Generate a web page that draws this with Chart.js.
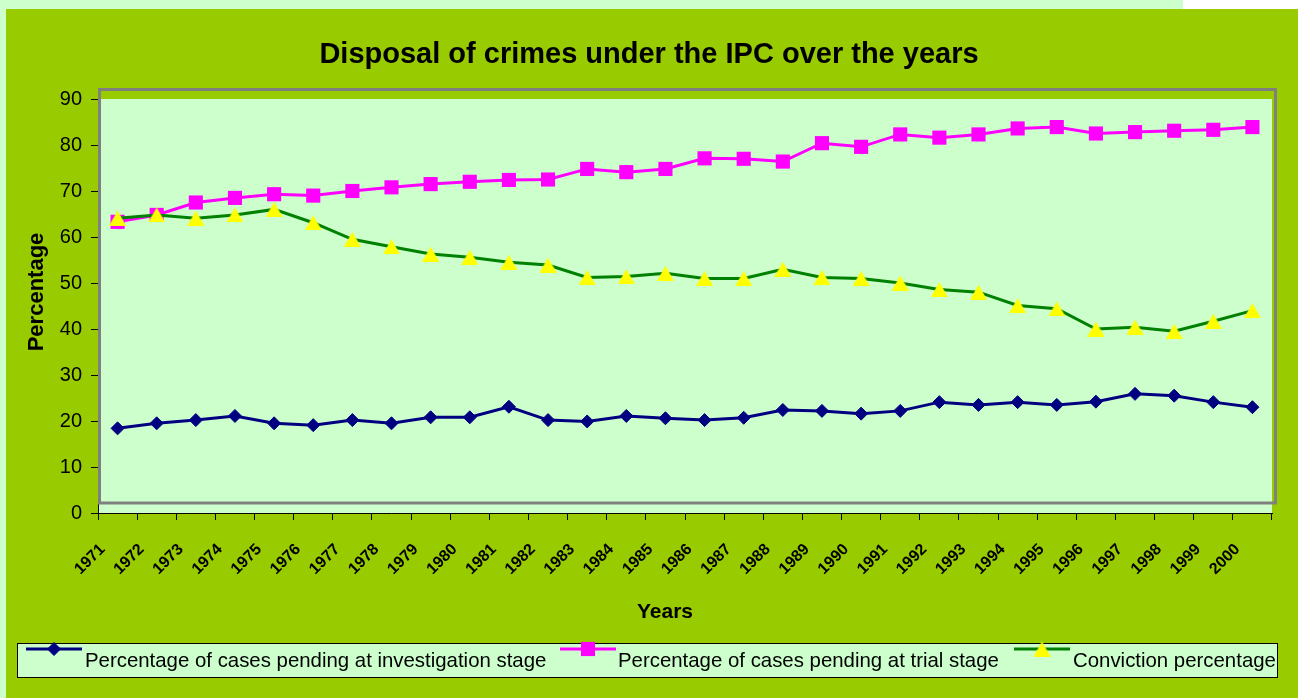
<!DOCTYPE html>
<html>
<head>
<meta charset="utf-8">
<title>Disposal of crimes under the IPC</title>
<script src="https://cdn.jsdelivr.net/npm/chart.js@4.4.1/dist/chart.umd.min.js"></script>
<style>
  html, body { margin: 0; padding: 0; background: #ccffcc; }
  canvas { display: block; }
</style>
</head>
<body>
<canvas id="crimeChart" width="1298" height="698"></canvas>
<script>
// values (percent)
const years = ['1971', '1972', '1973', '1974', '1975', '1976', '1977', '1978', '1979', '1980',
               '1981', '1982', '1983', '1984', '1985', '1986', '1987', '1988', '1989', '1990',
               '1991', '1992', '1993', '1994', '1995', '1996', '1997', '1998', '1999', '2000'];
const investigationPending = [18.4, 19.5, 20.2, 21.1, 19.5, 19.1, 20.2, 19.5, 20.8, 20.8,
                              23.1, 20.2, 19.9, 21.1, 20.6, 20.2, 20.7, 22.4, 22.2, 21.6,
                              22.2, 24.1, 23.5, 24.1, 23.5, 24.2, 25.9, 25.5, 24.1, 23.0];
const trialPending = [63.3, 64.8, 67.5, 68.5, 69.3, 69.0, 70.0, 70.8, 71.5, 72.0,
                      72.4, 72.5, 74.8, 74.1, 74.8, 77.1, 77.0, 76.4, 80.4, 79.6,
                      82.3, 81.6, 82.3, 83.6, 83.9, 82.5, 82.8, 83.1, 83.3, 83.9];
const convictionRate = [64.1, 64.8, 64.1, 64.8, 66.0, 63.1, 59.5, 57.9, 56.3, 55.6,
                        54.5, 53.9, 51.2, 51.4, 52.1, 51.0, 51.0, 53.0, 51.2, 51.0,
                        50.0, 48.6, 48.0, 45.1, 44.4, 40.0, 40.4, 39.5, 41.7, 44.0];
const yMin = 0, yMax = 90, yStep = 10;
const seriesNames = ['Percentage of cases pending at investigation stage',
                     'Percentage of cases pending at trial stage',
                     'Conviction percentage'];
const chartTitle = 'Disposal of crimes under the IPC over the years';
const xTitle = 'Years';
const yTitle = 'Percentage';

const FONT = '"Liberation Sans", Arial, sans-serif';
const OLIVE = '#99cc00';
const PALE = '#ccffcc';

// legend slots: where each sample line starts (x) and where its text starts
const legendSlots = [
    { lineX: 26, textX: 85 },
    { lineX: 560, textX: 618 },
    { lineX: 1014, textX: 1073 }
];

// Excel centres its triangle on the box, not on the circumcentre, so build our own
function makeTriangle(w, h, color) {
    const c = document.createElement('canvas');
    c.width = w;
    c.height = h;
    const g = c.getContext('2d');
    g.fillStyle = color;
    g.beginPath();
    g.moveTo(w / 2, 0);
    g.lineTo(w, h);
    g.lineTo(0, h);
    g.closePath();
    g.fill();
    return c;
}
const yellowTriangle = makeTriangle(17, 15, '#ffff00');

function drawMarker(ctx, ds, x, y) {
    ctx.fillStyle = ds.pointBackgroundColor;
    ctx.strokeStyle = ds.pointBorderColor;
    ctx.lineWidth = ds.pointBorderWidth;
    Chart.helpers.drawPoint(ctx, {
        pointStyle: ds.pointStyle,
        radius: ds.pointRadius,
        rotation: 0,
        borderWidth: ds.pointBorderWidth
    }, x, y);
}

const decor = {
    id: 'decor',
    beforeDraw(chart) {
        const { ctx, chartArea: a, width, height } = chart;
        ctx.save();
        ctx.fillStyle = PALE;
        ctx.fillRect(0, 0, width, height);
        ctx.fillStyle = '#ffffff';
        ctx.fillRect(1183, 0, width - 1183, 9);
        ctx.fillStyle = OLIVE;
        ctx.fillRect(6, 9, width - 6, height - 9);
        // plot background
        ctx.fillStyle = PALE;
        ctx.fillRect(a.left, a.top, a.right - a.left, a.bottom - a.top);
        ctx.restore();
    },
    beforeDatasetsDraw(chart) {
        const { ctx, chartArea: a } = chart;
        // grey frame sits a little higher than the plot fill, like in the original
        ctx.save();
        ctx.strokeStyle = '#808080';
        ctx.lineWidth = 3;
        ctx.strokeRect(a.left + 1.5, a.top - 9.5, a.right - a.left + 2, a.bottom - a.top - 0.5);
        ctx.restore();
    },
    afterDraw(chart) {
        const { ctx } = chart;
        ctx.save();
        ctx.fillStyle = '#000';

        // title
        ctx.font = 'bold 29px ' + FONT;
        ctx.textAlign = 'center';
        ctx.textBaseline = 'alphabetic';
        ctx.fillText(chartTitle, 649, 63);

        // axis titles
        ctx.font = 'bold 21px ' + FONT;
        ctx.textBaseline = 'middle';
        ctx.fillText(xTitle, 665, 612);
        ctx.save();
        ctx.font = 'bold 22px ' + FONT;
        ctx.translate(37, 292);
        ctx.rotate(-Math.PI / 2);
        ctx.fillText(yTitle, 0, 0);
        ctx.restore();

        // legend box
        ctx.fillStyle = PALE;
        ctx.fillRect(17, 643, 1260, 34);
        ctx.strokeStyle = '#000';
        ctx.lineWidth = 1;
        ctx.strokeRect(17.5, 643.5, 1260, 34);

        const lineY = 649;
        chart.data.datasets.forEach((ds, i) => {
            const slot = legendSlots[i];
            ctx.strokeStyle = ds.borderColor;
            ctx.lineWidth = ds.borderWidth;
            ctx.beginPath();
            ctx.moveTo(slot.lineX, lineY);
            ctx.lineTo(slot.lineX + 56, lineY);
            ctx.stroke();
            drawMarker(ctx, ds, slot.lineX + 28, lineY);

            ctx.fillStyle = '#000';
            ctx.font = '20.4px ' + FONT;
            ctx.textAlign = 'left';
            ctx.textBaseline = 'alphabetic';
            ctx.fillText(ds.label, slot.textX, 667);
        });
        ctx.restore();
    }
};

const ctx = document.getElementById('crimeChart').getContext('2d');
new Chart(ctx, {
    type: 'line',
    data: {
        labels: years,
        datasets: [
            {
                label: seriesNames[0],
                data: investigationPending,
                borderColor: '#000080',
                backgroundColor: '#000080',
                borderWidth: 3,
                pointStyle: 'rectRot',
                pointRadius: 6.5,
                pointBorderWidth: 1,
                pointBackgroundColor: '#000080',
                pointBorderColor: '#000080',
                order: 2
            },
            {
                label: seriesNames[1],
                data: trialPending,
                borderColor: '#ff00ff',
                backgroundColor: '#ff00ff',
                borderWidth: 3,
                pointStyle: 'rect',
                pointRadius: 10,
                pointBorderWidth: 0,
                pointBackgroundColor: '#ff00ff',
                pointBorderColor: '#ff00ff',
                order: 1
            },
            {
                label: seriesNames[2],
                data: convictionRate,
                borderColor: '#008000',
                backgroundColor: '#008000',
                borderWidth: 3,
                pointStyle: yellowTriangle,
                pointRadius: 9,
                pointBorderWidth: 0,
                pointBackgroundColor: '#ffff00',
                pointBorderColor: '#ffff00',
                order: 0
            }
        ]
    },
    options: {
        responsive: false,
        animation: false,
        devicePixelRatio: 1,
        layout: { padding: { left: 0, top: 99, right: 26, bottom: 65 } },
        elements: { line: { tension: 0 } },
        plugins: {
            legend: { display: false },
            title: { display: false },
            tooltip: { enabled: false }
        },
        scales: {
            x: {
                type: 'category',
                offset: true,
                afterFit: s => { s.height = 120; },
                grid: {
                    offset: true,
                    drawOnChartArea: false,
                    drawTicks: true,
                    tickLength: 7,
                    tickColor: '#000',
                    tickWidth: 1
                },
                border: { display: true, color: '#000', width: 1 },
                ticks: {
                    autoSkip: false,
                    minRotation: 45,
                    maxRotation: 45,
                    padding: 20,
                    labelOffset: -15,
                    color: '#000',
                    font: { family: FONT, size: 16, weight: 'bold' }
                }
            },
            y: {
                min: yMin,
                max: yMax,
                afterFit: s => { s.width = 98; },
                grid: {
                    drawOnChartArea: false,
                    drawTicks: true,
                    tickLength: 7,
                    tickColor: '#000',
                    tickWidth: 1
                },
                border: { display: true, color: '#000', width: 1 },
                ticks: {
                    stepSize: yStep,
                    padding: 9,
                    color: '#000',
                    font: { family: FONT, size: 20 }
                }
            }
        }
    },
    plugins: [decor]
});
</script>
</body>
</html>
